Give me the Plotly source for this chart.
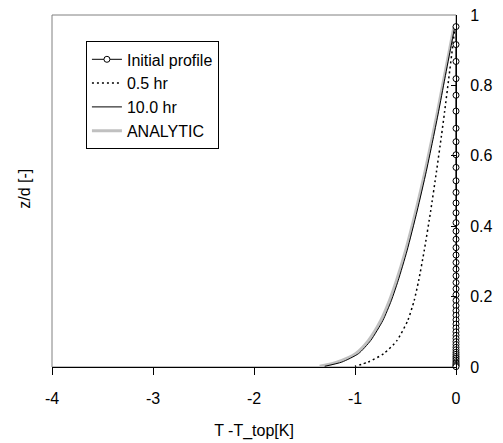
import plotly.graph_objects as go

# ---- data ----
z_nodes = [0.967, 0.916, 0.868, 0.819, 0.772, 0.727, 0.678, 0.640, 0.603, 0.567,
           0.529, 0.496, 0.466, 0.438, 0.410, 0.386, 0.363, 0.339, 0.318, 0.297,
           0.278, 0.259, 0.240, 0.222, 0.205, 0.189, 0.174, 0.160, 0.147, 0.134,
           0.122, 0.111, 0.100, 0.090, 0.081, 0.072, 0.064, 0.056, 0.049, 0.042,
           0.036, 0.030, 0.025, 0.020, 0.015, 0.011, 0.007, 0.004, 0.001]
t_initial = [0.0] * len(z_nodes)

z_curve = [0.967, 0.913, 0.819, 0.725, 0.655, 0.556, 0.443, 0.330, 0.245,
           0.188, 0.132, 0.075, 0.038, 0.014, 0.002]
t_05hr = [-0.010, -0.032, -0.072, -0.113, -0.145, -0.193, -0.251, -0.315, -0.370,
          -0.415, -0.478, -0.585, -0.715, -0.870, -1.000]
t_10hr = [-0.012, -0.048, -0.111, -0.173, -0.222, -0.294, -0.385, -0.485, -0.573,
          -0.641, -0.724, -0.845, -0.965, -1.130, -1.300]
t_analytic = [-0.020, -0.056, -0.120, -0.183, -0.233, -0.306, -0.398, -0.500, -0.590,
              -0.660, -0.745, -0.868, -0.995, -1.180, -1.350]

x_ticks = [-4, -3, -2, -1, 0]
y_ticks = [0, 0.2, 0.4, 0.6, 0.8, 1]

FONT = "Arial, Liberation Sans, sans-serif"

fig = go.Figure()
fig.add_trace(go.Scatter(x=t_analytic, y=z_curve, mode="lines", name="ANALYTIC",
                         line=dict(color="#c0c0c0", width=3, shape="spline", smoothing=0.6),
                         legendrank=4))
fig.add_trace(go.Scatter(x=t_10hr, y=z_curve, mode="lines", name="10.0 hr",
                         line=dict(color="black", width=1, shape="spline", smoothing=0.6),
                         legendrank=3))
fig.add_trace(go.Scatter(x=t_05hr, y=z_curve, mode="lines", name="0.5 hr",
                         line=dict(color="black", width=1.5, dash="2px,3px",
                                   shape="spline", smoothing=0.6),
                         legendrank=2))
fig.add_trace(go.Scatter(x=t_initial, y=z_nodes, mode="lines+markers", name="Initial profile",
                         line=dict(color="black", width=1),
                         marker=dict(symbol="circle", size=6, color="white",
                                     line=dict(color="black", width=1)),
                         cliponaxis=False, legendrank=1))

fig.update_layout(
    width=503, height=443,
    margin=dict(l=44, r=55, t=7, b=84, autoexpand=False),
    paper_bgcolor="white", plot_bgcolor="white",
    font=dict(family=FONT, size=16, color="black"),
    showlegend=True,
    legend=dict(x=0.084, y=0.925, xanchor="left", yanchor="top",
                bordercolor="black", borderwidth=1, bgcolor="white",
                font=dict(family=FONT, size=16, color="black"),
                tracegroupgap=0),
    xaxis=dict(range=[-4, 0], tickvals=x_ticks, ticktext=[str(v) for v in x_ticks],
               ticks="outside", ticklen=7, tickcolor="black",
               showline=True, linecolor="black", linewidth=1, automargin=False,
               showgrid=False, zeroline=False, ticklabelstandoff=10,
               ticklabeloverflow="allow",
               title=dict(text="T -T_top[K]", font=dict(size=16), standoff=18)),
    yaxis=dict(range=[0, 1], side="right", tickvals=y_ticks,
               ticks="inside", ticklen=5, tickcolor="black", automargin=False,
               showline=True, linecolor="black", linewidth=1,
               showgrid=False, zeroline=False, ticklabelstandoff=10,
               ticklabeloverflow="allow"),
    shapes=[dict(type="rect", xref="paper", yref="paper", x0=0, x1=1, y0=0, y1=1,
                 line=dict(color="#808080", width=1), layer="below")],
    annotations=[dict(text="z/d [-]", xref="paper", yref="paper",
                      x=-0.067, y=0.506, xanchor="center", yanchor="middle",
                      textangle=-90, showarrow=False,
                      font=dict(family=FONT, size=16, color="black"))],
)

fig.write_html("out.html")
